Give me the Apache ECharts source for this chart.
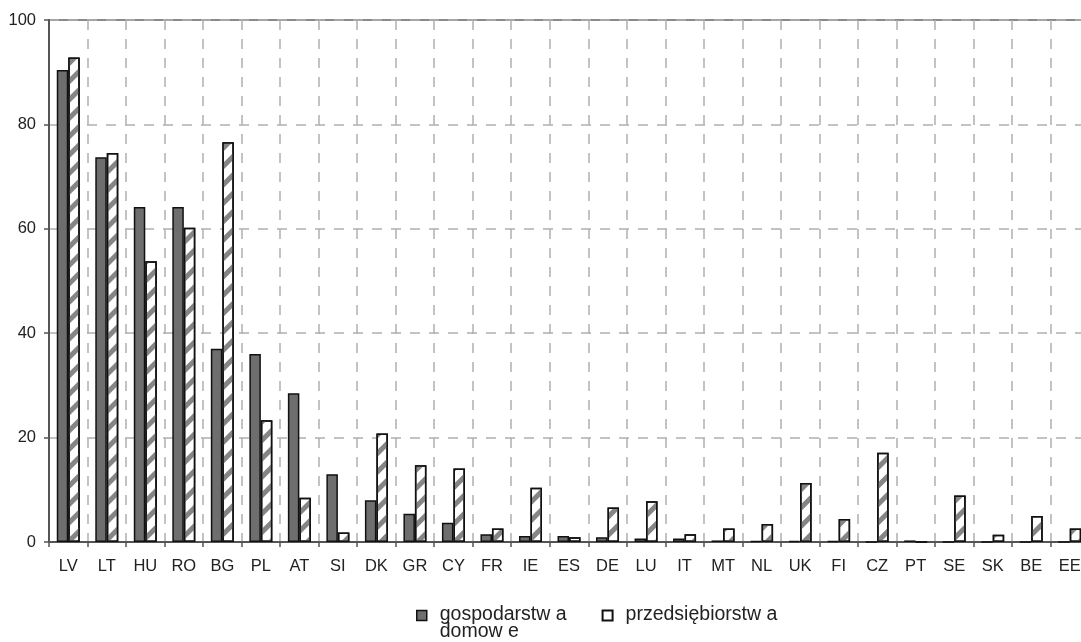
<!DOCTYPE html>
<html>
<head>
<meta charset="utf-8">
<script src="https://cdn.jsdelivr.net/npm/echarts@6/dist/echarts.min.js"></script>
<style>html,body{margin:0;padding:0;background:#fff}#c{width:1081px;height:642px}</style>
</head>
<body>
<div id="c"></div>
<script>
const categories = ['LV','LT','HU','RO','BG','PL','AT','SI','DK','GR','CY','FR','IE','ES','DE','LU','IT','MT','NL','UK','FI','CZ','PT','SE','SK','BE','EE'];
const households = [90.4,73.7,64.2,64.2,37.0,36.0,28.5,13.0,8.0,5.4,3.7,1.5,1.15,1.15,0.9,0.65,0.65,0.3,0.2,0.2,0.2,0,0.3,0,0,0,0];
const enterprises = [92.8,74.5,53.8,60.2,76.6,23.3,8.5,1.8,20.8,14.7,14.1,2.6,10.4,0.9,6.6,7.8,1.5,2.6,3.45,11.3,4.4,17.1,0,8.9,1.4,5.0,2.6];
const seriesNames = ['gospodarstw a domow e', 'przedsiębiorstw a'];
const legendLabels = ['gospodarstw a\ndomow e', 'przedsiębiorstw a\n\u00a0'];
const yTicks = [0, 20, 40, 60, 80, 100];

const font = 'Liberation Sans, Arial, sans-serif';
const chart = echarts.init(document.getElementById('c'), null, {renderer: 'canvas'});
const iconPath = 'path://M0,0H10V10H0Z M0,26';
chart.setOption({
  animation: false,
  backgroundColor: '#fff',
  grid: {left: 49, top: 20, width: 1040, height: 522, outerBoundsMode: 'none', containLabel: false,
    show: true, borderColor: '#8a8a8a', borderWidth: 2, backgroundColor: 'transparent'},
  legend: {
    left: 411, top: 600, itemWidth: 10, itemHeight: 26, itemGap: 35,
    textStyle: {fontFamily: font, fontSize: 19.5, color: '#222', lineHeight: 17, padding: [0, 0, 0, 8]},
    formatter: n => legendLabels[seriesNames.indexOf(n)],
    data: [
      {name: seriesNames[0], icon: iconPath, itemStyle: {color: '#6e6e6e', borderColor: '#111', borderWidth: 1.5}},
      {name: seriesNames[1], icon: iconPath, itemStyle: {color: '#fff', borderColor: '#111', borderWidth: 2, decal: 'none'}}
    ]
  },
  xAxis: {
    type: 'category', data: categories,
    axisLine: {lineStyle: {color: '#555', width: 2}},
    axisTick: {show: true, length: 5, lineStyle: {color: '#555', width: 1.5}},
    axisLabel: {fontFamily: font, fontSize: 16.5, color: '#222', margin: 16, interval: 0},
    splitLine: {show: true, interval: 0, lineStyle: {color: '#b0b0b0', type: [10, 9], width: 1.5}}
  },
  yAxis: {
    type: 'value', min: 0, max: 100, interval: 20,
    axisLine: {show: true, lineStyle: {color: '#555', width: 2}},
    axisTick: {show: true, length: 5, lineStyle: {color: '#555', width: 1.5}},
    axisLabel: {fontFamily: font, fontSize: 16.5, color: '#222', margin: 13,
      formatter: v => yTicks.includes(v) ? String(v) : ''},
    splitLine: {show: true, lineStyle: {color: '#b0b0b0', type: [10, 9], width: 1.5}}
  },
  series: [
    {name: seriesNames[0], type: 'bar', data: households, barWidth: 11.5, barGap: '0%',
     itemStyle: {color: '#6e6e6e', borderColor: '#111', borderWidth: 1.5}},
    {name: seriesNames[1], type: 'bar', data: enterprises, barWidth: 11.5,
     itemStyle: {color: '#fff', borderColor: '#111', borderWidth: 1.5,
       decal: {symbol: 'rect', symbolSize: 1, color: '#858585', dashArrayX: [1, 0], dashArrayY: [5, 8], rotation: -Math.PI / 4}}}
  ]
});
</script>
</body>
</html>
